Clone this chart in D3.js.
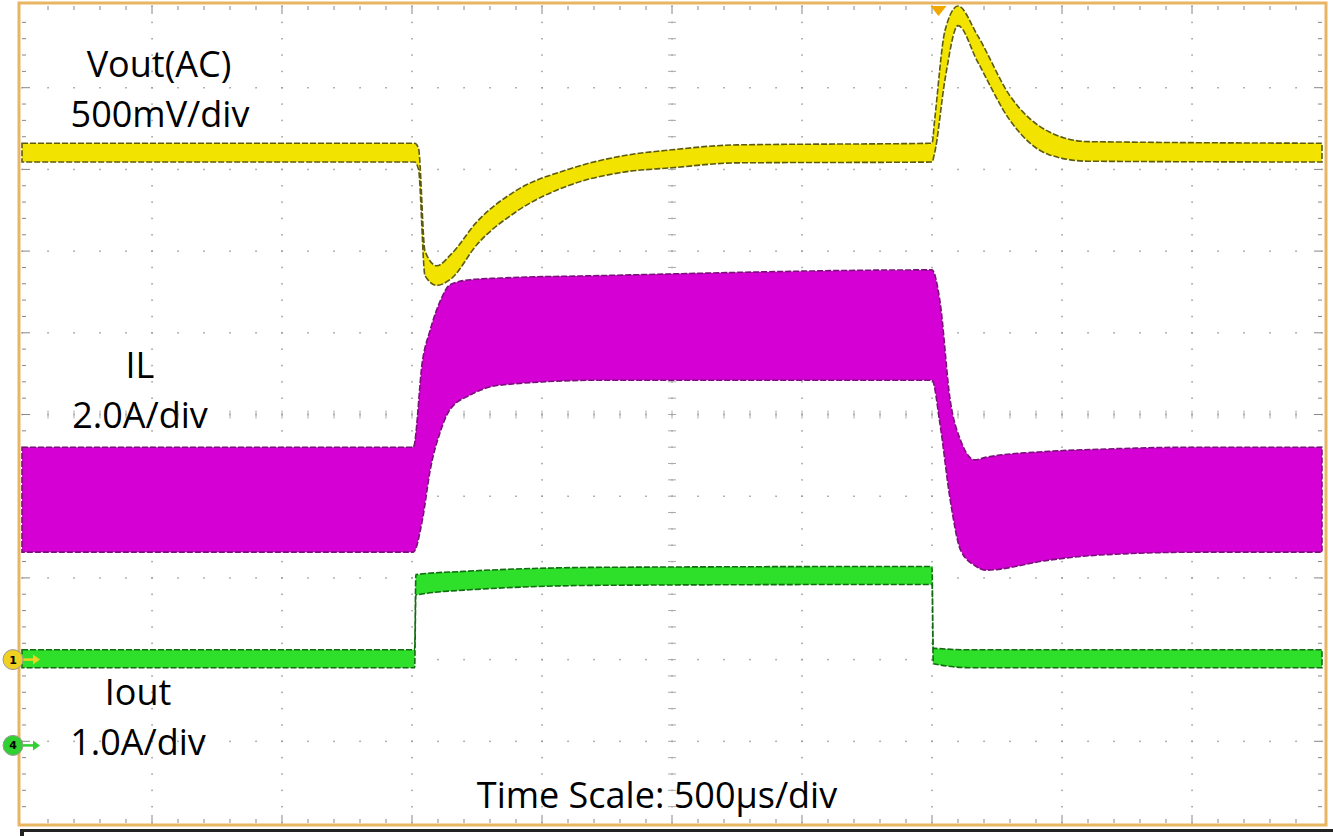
<!DOCTYPE html>
<html><head><meta charset="utf-8">
<script src="https://cdn.jsdelivr.net/npm/d3@7"></script>
<style>body{margin:0;background:#fff}</style>
</head><body>
<svg id="SVG_CONTAINER" width="1333" height="836"></svg>
<script>
// time in divisions (500us/div), envelope hi / lo of each trace
const voutT  = [0, 3.02, 3.05, 3.1, 3.19, 3.3, 3.5, 3.8, 4.2, 4.6, 5.0, 5.5, 7.0, 7.02, 7.1, 7.2, 7.35, 7.6, 7.9, 8.2, 10];
const voutHi = [60, 60, 30, -600, -690, -620, -420, -230, -100, -20, 20, 50, 60, 200, 750, 900, 720, 350, 130, 70, 60];   // mV
const voutLo = [-55, -55, -100, -750, -810, -770, -560, -360, -200, -120, -90, -60, -55, 0, 450, 780, 560, 200, -10, -50, -55];

const ilT  = [0, 3.01, 3.08, 3.14, 3.22, 3.29, 3.45, 3.68, 4.45, 7.0, 7.06, 7.14, 7.22, 7.33, 7.41, 7.91, 8.29, 9.06, 10];
const ilHi = [5.2, 5.2, 7.3, 8.07, 8.8, 9.17, 9.3, 9.34, 9.4, 9.54, 8.8, 6.35, 5.37, 4.89, 4.95, 5.1, 5.15, 5.2, 5.2];  // A
const ilLo = [2.63, 2.63, 3.42, 4.64, 5.6, 6.11, 6.48, 6.72, 6.84, 6.84, 5.8, 3.91, 2.68, 2.3, 2.19, 2.44, 2.56, 2.63, 2.63];

const ioutT  = [0, 3.02, 3.03, 3.4, 4.5, 7.0, 7.01, 7.3, 10];
const ioutHi = [1.17, 1.17, 2.09, 2.13, 2.18, 2.19, 1.19, 1.17, 1.17];  // A
const ioutLo = [0.95, 0.95, 1.84, 1.90, 1.96, 1.97, 1.0, 0.95, 0.95];

const labels = [
  {t: "Vout(AC)", x: 159, y: 77},
  {t: "500mV/div", x: 160, y: 127},
  {t: "IL", x: 140, y: 378},
  {t: "2.0A/div", x: 140, y: 428},
  {t: "Iout", x: 138, y: 705},
  {t: "1.0A/div", x: 138, y: 755},
  {t: "Time Scale: 500\u00b5s/div", x: 657, y: 808}
];

const svg = d3.select("#SVG_CONTAINER");
const L = 22, R = 1322, T = 6, B = 823;
const x = d3.scaleLinear().domain([0, 10]).range([L, R]);
const y = d3.scaleLinear().domain([0, 10]).range([B, T]);   // divisions

// channel position (div) and scale (units/div)
const chans = [
  {t: voutT, hi: voutHi, lo: voutLo, off: 8.2, per: 500, fill: "#f2e400", edge: "#5c5a10"},
  {t: ilT, hi: ilHi, lo: ilLo, off: 2.0, per: 2.0, fill: "#d400d4", edge: "#7a107a"},
  {t: ioutT, hi: ioutHi, lo: ioutLo, off: 0.95, per: 1.0, fill: "#2ee02a", edge: "#136b12"}
];

// grid dots
const g = svg.append("g");
for (let i = 1; i < 10; i++) {
  for (let k = 0; k <= 50; k++) {
    g.append("rect").attr("x", x(i) - 0.7).attr("y", y(k / 5) - 0.7).attr("width", 1.5).attr("height", 1.5).attr("fill", "#9a9a9a");
    g.append("rect").attr("x", x(k / 5) - 0.7).attr("y", y(i) - 0.7).attr("width", 1.5).attr("height", 1.5).attr("fill", "#9a9a9a");
  }
}
// minor ticks on border and centre axes
for (let k = 1; k < 50; k++) {
  const len = k % 5 === 0 ? 8 : 4;
  [[T, 1], [B, -1]].forEach(([yy, s]) => g.append("line").attr("x1", x(k / 5)).attr("x2", x(k / 5)).attr("y1", yy).attr("y2", yy + s * len).attr("stroke", "#888"));
  [[L, 1], [R, -1]].forEach(([xx, s]) => g.append("line").attr("y1", y(k / 5)).attr("y2", y(k / 5)).attr("x1", xx).attr("x2", xx + s * len).attr("stroke", "#888"));
  g.append("line").attr("x1", x(k / 5)).attr("x2", x(k / 5)).attr("y1", y(5) - 4).attr("y2", y(5) + 4).attr("stroke", "#aaa");
  g.append("line").attr("y1", y(k / 5)).attr("y2", y(k / 5)).attr("x1", x(5) - 4).attr("x2", x(5) + 4).attr("stroke", "#aaa");
}

chans.forEach(c => {
  const pts = c.t.map((t, i) => ({t: t, hi: c.hi[i] / c.per + c.off, lo: c.lo[i] / c.per + c.off}));
  const area = d3.area().x(d => x(d.t)).y0(d => y(d.lo)).y1(d => y(d.hi)).curve(d3.curveMonotoneX);
  svg.append("path").datum(pts).attr("d", area).attr("fill", c.fill)
    .attr("stroke", c.edge).attr("stroke-width", 1.6).attr("stroke-dasharray", "6,2");
});

// frame
svg.append("rect").attr("x", 19).attr("y", 3).attr("width", 1307).attr("height", 822)
  .attr("fill", "none").attr("stroke", "#e8b563").attr("stroke-width", 3);
svg.append("rect").attr("x", 20).attr("y", 829).attr("width", 1313).attr("height", 7).attr("fill", "#222");
svg.append("rect").attr("x", 24).attr("y", 832).attr("width", 1309).attr("height", 4).attr("fill", "#fff");

// channel markers
function marker(yy, col, txt) {
  svg.append("path").attr("d", `M${x(0)},${yy} l14,0`).attr("stroke", col).attr("stroke-width", 2.5);
  svg.append("path").attr("d", `M${x(0) + 18},${yy} l-7,-5 l0,10z`).attr("fill", col);
  svg.append("circle").attr("cx", 13).attr("cy", yy).attr("r", 10).attr("fill", col).attr("stroke", "#999");
  svg.append("text").attr("x", 13).attr("y", yy + 4).attr("text-anchor", "middle").attr("font-size", 11)
    .attr("font-family", "DejaVu Sans").attr("font-weight", "bold").text(txt);
}
marker(y(2.0), "#f0d020", "1");
marker(y(0.95), "#30d030", "4");
svg.append("path").attr("d", `M${x(7.05) - 8},${T} l16,0 l-8,10z`).attr("fill", "#f0a800");

svg.selectAll(".lbl").data(labels).enter().append("text").attr("class", "lbl")
  .attr("x", d => d.x).attr("y", d => d.y).attr("text-anchor", "middle")
  .attr("font-family", "Open Sans").attr("font-size", 36).attr("fill", "#000")
  .text(d => d.t);
</script>
</body></html>
